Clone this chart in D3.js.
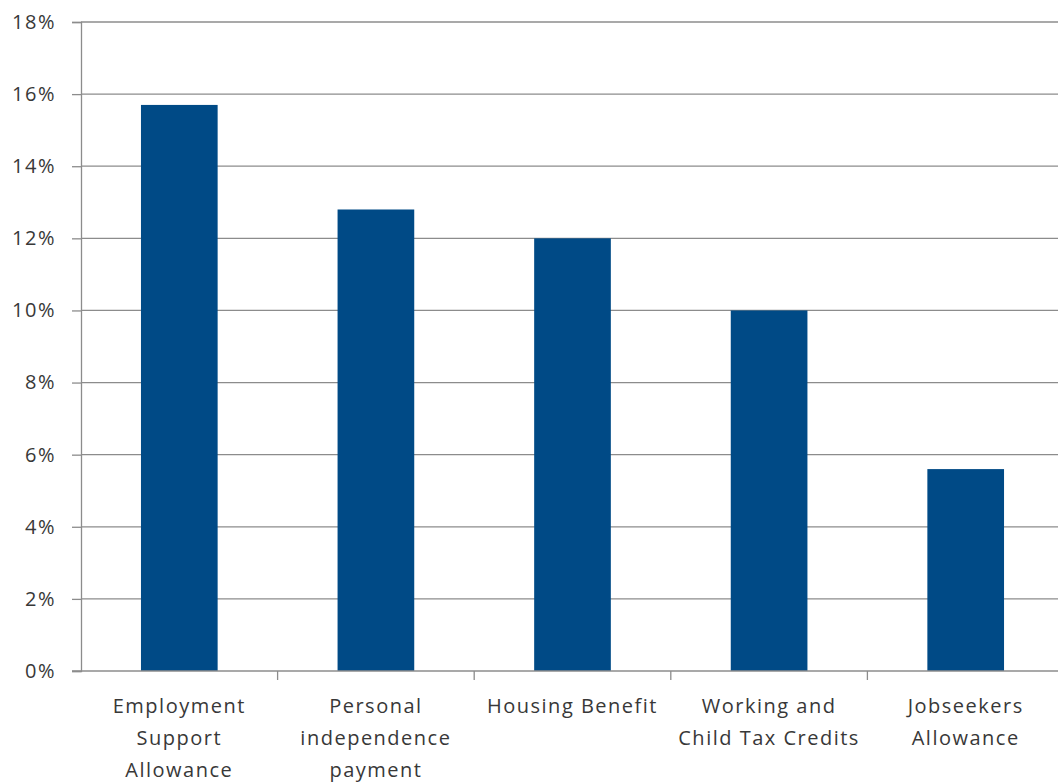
<!DOCTYPE html>
<html>
<head>
<meta charset="utf-8">
<script src="https://cdn.jsdelivr.net/npm/d3@7"></script>
<style>
  body { margin: 0; background: #fff; }
  svg text { font-family: "Open Sans", sans-serif; fill: #383838; }
</style>
</head>
<body>
<svg id="canvas" width="1058" height="784"></svg>
<script>
// benefit categories, each label split on lines
let categories = [
    ["Employment", "Support", "Allowance"],
    ["Personal", "independence", "payment"],
    ["Housing Benefit"],
    ["Working and", "Child Tax Credits"],
    ["Jobseekers", "Allowance"]
]
let values = [15.7, 12.8, 12.0, 10.0, 5.6]   // percent
let yTicks = [0, 2, 4, 6, 8, 10, 12, 14, 16, 18]

let canvas = d3.select("#canvas")
let plotLeft = 81, plotRight = 1064, plotTop = 22, plotBottom = 671

let xScale = d3.scaleBand()
    .domain(d3.range(categories.length))
    .range([plotLeft, plotRight])
    .paddingInner(0.61)
    .paddingOuter(0.305)

let yScale = d3.scaleLinear()
    .domain([0, 18])
    .range([plotBottom, plotTop])

// gridlines
canvas.append('g')
    .selectAll('line')
    .data(yTicks.slice(1))
    .enter()
    .append('line')
    .attr('x1', plotLeft)
    .attr('x2', plotRight)
    .attr('y1', d => yScale(d))
    .attr('y2', d => yScale(d))
    .attr('stroke', '#8c8c8c')
    .attr('stroke-width', 1.3)

// bars
canvas.append('g')
    .selectAll('rect')
    .data(values)
    .enter()
    .append('rect')
    .attr('x', (d, i) => xScale(i))
    .attr('y', d => yScale(d))
    .attr('width', xScale.bandwidth())
    .attr('height', d => plotBottom - yScale(d))
    .attr('fill', '#004a86')

// y axis
let yAxis = d3.axisLeft(yScale)
    .tickValues(yTicks)
    .tickSize(9)
    .tickPadding(16)
    .tickFormat(d => d + '%')

let yg = canvas.append('g')
    .attr('transform', 'translate(' + plotLeft + ',0)')
    .call(yAxis)
yg.selectAll('path, line').attr('stroke', '#8c8c8c').attr('stroke-width', 1.3)
yg.selectAll('text')
    .style('font-size', '20px')
    .style('letter-spacing', '1.5px')
    .attr('fill', '#383838')

// x axis line and category dividers
let catWidth = (plotRight - plotLeft) / categories.length
canvas.append('line')
    .attr('x1', plotLeft - 9).attr('x2', plotRight)
    .attr('y1', plotBottom).attr('y2', plotBottom)
    .attr('stroke', '#8c8c8c').attr('stroke-width', 1.3)

canvas.append('g')
    .selectAll('line')
    .data(d3.range(1, categories.length + 1))
    .enter()
    .append('line')
    .attr('x1', i => plotLeft + i * catWidth)
    .attr('x2', i => plotLeft + i * catWidth)
    .attr('y1', plotBottom)
    .attr('y2', plotBottom + 9)
    .attr('stroke', '#8c8c8c').attr('stroke-width', 1.3)

// category labels
let labels = canvas.append('g')
    .selectAll('text')
    .data(categories)
    .enter()
    .append('text')
    .attr('text-anchor', 'middle')
    .style('font-size', '20px')
    .style('letter-spacing', '1.5px')

labels.selectAll('tspan')
    .data((d, i) => d.map(line => ({line: line, i: i})))
    .enter()
    .append('tspan')
    .attr('x', d => xScale(d.i) + xScale.bandwidth() / 2)
    .attr('y', (d, j) => 713 + j * 32)
    .text(d => d.line)
</script>
</body>
</html>
